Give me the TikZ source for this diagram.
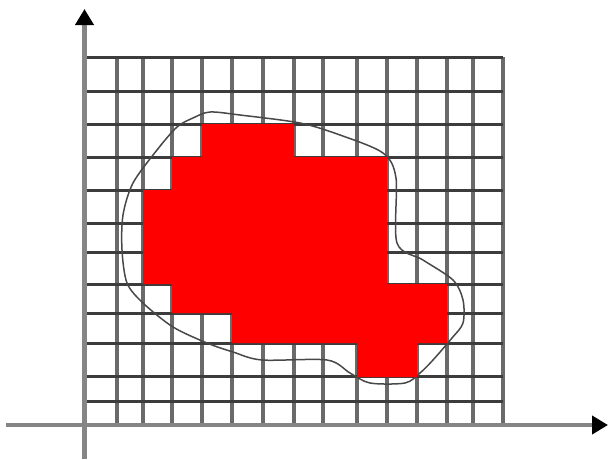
\documentclass[tikz,border=0pt]{standalone}
\usetikzlibrary{arrows.meta}
\definecolor{hline}{HTML}{3C3C3C}
\definecolor{vline}{HTML}{6A6A6A}
\definecolor{axisgray}{HTML}{858585}
\definecolor{blobline}{HTML}{484848}
\tikzset{
  gridh/.style={draw=hline, line width=3pt},
  gridv/.style={draw=vline, line width=3.2pt},
  axisline/.style={draw=axisgray, line width=4.5pt,
    -{Triangle[length=16pt,width=18pt,color=black]}},
  blob/.style={draw=blobline, line width=1.5pt},
  region/.style={fill=red, draw=none},
}
\begin{document}
\begin{tikzpicture}[x=1pt,y=-1pt]
\useasboundingbox (0,0) rectangle (608,459);
% grid
\foreach \gx in {117,143,172,202,232,263,294,323,357,387,417,447,473,503}
  \draw[gridv] (\gx,57) -- (\gx,426);
\foreach \gy in {57,91,124,157,190,223,252,284,313,343,376,401}
  \draw[gridh] (84,\gy) -- (503,\gy);
% outline of the shape
\draw[blob] plot[smooth cycle, tension=0.5] coordinates {
  (210,112) (240,115) (300,123) (340,135) (383,153) (396,178) (397,243)
  (423,260) (453,280) (463,300) (463,323) (452,338) (433,360) (420,373)
  (405,383) (370,383) (350,373) (327,360) (262,360) (233,352) (207,343)
  (173,327) (143,303) (127,283) (122,250) (123,215) (133,183) (157,150)
  (177,127) (193,118)};
% red cells
\fill[region] (202,124) -- (294,124) -- (294,157) -- (387,157) -- (387,284)
  -- (447,284) -- (447,343) -- (417,343) -- (417,377) -- (357,377) -- (357,343)
  -- (232,343) -- (232,313) -- (172,313) -- (172,284) -- (143,284) -- (143,190)
  -- (172,190) -- (172,157) -- (202,157) -- cycle;
% axes
\coordinate (xstart) at (6,425);
\coordinate (xend) at (608,425);
\coordinate (ystart) at (84.5,459);
\coordinate (yend) at (84.5,9);
\draw[axisline] (xstart) -- (xend);
\draw[axisline] (ystart) -- (yend);
\end{tikzpicture}
\end{document}
